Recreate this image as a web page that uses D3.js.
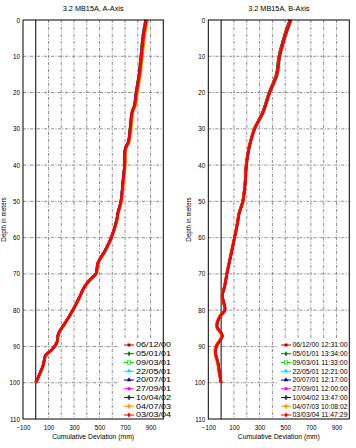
<!DOCTYPE html>
<html><head><meta charset="utf-8">
<script src="https://cdn.jsdelivr.net/npm/d3@7"></script>
<style>html,body{margin:0;padding:0;background:#fff}svg{display:block}text{font-family:"Liberation Sans",Arial,sans-serif;fill:#000}</style>
</head><body><svg id="c" width="356" height="448"></svg>
<script>
// ---------- data ----------
const seriesNamesA = ["06/12/00","05/01/01","09/03/01","22/05/01","20/07/01","27/09/01","10/04/02","04/07/03","03/03/04"];
const seriesNamesB = ["06/12/00 12:31:00","05/01/01 13:34:00","09/03/01 11:33:00","22/05/01 12:21:00","20/07/01 12:17:00","27/09/01 12:00:00","10/04/02 13:47:00","04/07/03 10:08:02","03/03/04 11:47:29"];
const yTicks = [0,10,20,30,40,50,60,70,80,90,100,110];
const xTickLabels = [-100,100,300,500,700,900];
const xGrid = [100,200,300,400,500,600,700,800,900];

const depthsA = [0,4,10,15,20,23.5,25.5,30,33.5,35.5,40,44.5,50,53.5,55,60,63.5,67,70,71.5,74,76,80,83.5,86.5,89,91,92.5,95,98,100];
const a1 = [860,840,823,808,785,772,752,738,725,700,695,682,666,640,634,590,543,486,470,426,373,347,290,230,177,164,122,75,59,25,0];
const a2 = [862,841,824,809,786,773,753,739,726,701,696,683,667,641,635,591,544,487,471,427,374,348,290,230,177,164,122,75,60,26,0];
const a3 = [863,842,825,810,787,774,754,739,726,701,696,683,667,641,635,591,544,487,471,427,374,348,291,231,178,165,123,76,60,26,0];
const a4 = [864,843,826,811,788,774,754,740,727,702,697,684,668,642,636,592,545,487,471,427,374,348,291,231,178,165,123,76,60,26,0];
const a5 = [865,844,826,811,788,775,755,740,727,702,697,684,668,642,636,592,545,488,472,428,375,349,291,231,178,165,123,76,60,26,0];
const a6 = [866,845,827,812,789,775,755,741,728,702,697,684,668,642,636,592,545,488,472,428,375,349,291,231,178,165,123,76,60,26,0];
const a7 = [867,846,828,812,789,776,756,741,728,703,698,685,669,643,637,593,546,488,472,428,375,349,291,231,178,165,123,76,60,26,0];
const a8 = [878,857,838,822,798,783,763,749,735,709,703,690,673,647,640,596,549,491,475,430,377,351,293,232,179,166,124,77,61,27,0];
const a9 = [868,847,829,813,790,776,756,742,729,703,698,685,669,643,637,593,546,488,472,428,375,349,291,231,178,165,123,76,60,26,0];

const depthsB = [0,4,10,15,20,25.5,30,35.5,40,44.5,50,53.5,56,60,65.5,70,73.5,76,80,81.5,84.5,87,90,92,94.5,97.5,100];
const b1 = [535,495,449,429,373,322,258,214,195,187,168,137,126,104,71,44,26,8,28,-7,-34,8,-39,-44,-26,-13,0];
const b2 = [537,497,451,431,374,323,259,215,195,187,168,137,126,104,71,44,26,8,28,-7,-34,8,-39,-44,-26,-13,0];
const b3 = [538,498,452,431,375,324,259,215,196,188,169,138,127,104,71,44,26,8,29,-7,-34,8,-39,-44,-26,-12,0];
const b4 = [548,508,461,440,383,330,265,220,200,191,172,141,130,107,74,47,29,11,32,-4,-31,11,-36,-41,-23,-10,0];
const b5 = [540,500,454,433,377,325,260,216,196,188,169,138,127,105,72,45,27,9,29,-6,-33,9,-38,-43,-25,-12,0];
const b6 = [541,501,455,434,377,326,261,216,196,188,169,138,127,105,72,45,27,9,29,-6,-33,9,-38,-43,-25,-12,0];
const b7 = [542,502,455,434,378,326,261,217,197,189,170,139,128,105,72,45,27,9,30,-6,-33,9,-38,-43,-25,-12,0];
const b8 = [543,502,455,434,377,325,260,215,195,186,167,136,125,102,69,42,24,6,26,-11,-39,3,-45,-50,-31,-16,0];
const b9 = [545,504,457,436,379,327,262,217,197,189,170,139,128,105,72,45,27,9,30,-6,-33,9,-38,-43,-25,-12,0];

const seriesColors = ["#c00000","#008000","#00e000","#00e0e0","#000090","#ff00ff","#202040","#ff9900","#ff0000"];
const seriesSymbols = ["square","diamond","opensquare","triangle","triangle","square","cross","cross","circle"];

// ---------- drawing ----------
const svg = d3.select("#c");
const plotTop = 20, plotBottom = 419;

function panel(opt){
  const g = svg.append("g");
  const x = d3.scaleLinear().domain([-100,1000]).range([opt.x0, opt.x1]);
  const y = d3.scaleLinear().domain([0,110]).range([plotTop, plotBottom]);
  g.selectAll(".hg").data(yTicks.filter(d=>d>0&&d<110)).join("line")
    .attr("x1",opt.x0).attr("x2",opt.x1).attr("y1",d=>y(d)).attr("y2",d=>y(d))
    .attr("stroke","#808080").attr("stroke-width",0.9).attr("stroke-dasharray","3,1.5,1,1.5");
  g.selectAll(".vg").data(xGrid).join("line")
    .attr("x1",d=>x(d)).attr("x2",d=>x(d)).attr("y1",plotTop).attr("y2",plotBottom)
    .attr("stroke","#808080").attr("stroke-width",0.9).attr("stroke-dasharray","3,1.5,1,1.5");
  g.append("line").attr("x1",x(0)).attr("x2",x(0)).attr("y1",plotTop).attr("y2",plotBottom)
    .attr("stroke","#000").attr("stroke-width",1);
  g.append("rect").attr("x",opt.legBoxX).attr("y",339).attr("width",opt.x1-opt.legBoxX-0.5).attr("height",plotBottom-339-0.5).attr("fill","#fff");
  const line = d3.line().x(d=>x(d[1])).y(d=>y(d[0])).curve(d3.curveCatmullRom.alpha(0.5));
  opt.series.forEach((vals,i)=>{
    g.append("path").datum(opt.depths.map((dp,k)=>[dp,vals[k]]))
      .attr("d",line).attr("fill","none").attr("stroke",seriesColors[i])
      .attr("stroke-width", i===8?2.9:2.4).attr("stroke-linejoin","round");
  });
  g.append("rect").attr("x",opt.x0).attr("y",plotTop).attr("width",opt.x1-opt.x0).attr("height",plotBottom-plotTop)
    .attr("fill","none").attr("stroke","#000").attr("stroke-width",1);
  const ya = d3.axisLeft(y).tickValues(yTicks).tickSize(0).tickPadding(3);
  const yg = g.append("g").attr("transform",`translate(${opt.x0},0)`).call(ya);
  yg.select(".domain").remove();
  yg.selectAll("text").style("font-size","6.3px").style("font-family","'Liberation Sans',Arial,sans-serif");
  const xa = d3.axisBottom(x).tickValues(xTickLabels).tickSize(0).tickPadding(7);
  const xg = g.append("g").attr("transform",`translate(0,${plotBottom})`).call(xa);
  xg.select(".domain").remove();
  xg.selectAll("text").style("font-size","6.3px").style("font-family","'Liberation Sans',Arial,sans-serif");
  const cx = (opt.x0+opt.x1)/2;
  g.append("text").attr("x",cx).attr("y",11).attr("text-anchor","middle").style("font-size","7.3px").text(opt.title);
  g.append("text").attr("x",cx).attr("y",439).attr("text-anchor","middle").style("font-size","6.8px").text("Cumulative Deviation (mm)");
  g.append("text").attr("transform",`translate(${opt.x0-17},${(plotTop+plotBottom)/2}) rotate(-90)`)
    .attr("text-anchor","middle").style("font-size","6.3px").text("Depth in meters");
  opt.names.forEach((nm,i)=>{
    const ly = 345 + i*8.75;
    const c = seriesColors[i];
    g.append("line").attr("x1",opt.legX).attr("x2",opt.legX+10).attr("y1",ly).attr("y2",ly).attr("stroke",c).attr("stroke-width",1);
    const mx = opt.legX+5, s = seriesSymbols[i];
    if(s==="cross"){
      g.append("path").attr("d",d3.symbol(d3.symbolCross,12)()).attr("transform",`translate(${mx},${ly})`).attr("fill",c);
    } else if(s==="opensquare"){
      g.append("rect").attr("x",mx-1.6).attr("y",ly-1.6).attr("width",3.2).attr("height",3.2).attr("fill","#fff").attr("stroke",c).attr("stroke-width",0.8);
    } else {
      const t = {square:d3.symbolSquare,diamond:d3.symbolDiamond,triangle:d3.symbolTriangle,circle:d3.symbolDiamond}[s];
      g.append("path").attr("d",d3.symbol(t,9)()).attr("transform",`translate(${mx},${ly})`).attr("fill",c);
    }
    g.append("text").attr("x",opt.legTextX).attr("y",ly+2.3).style("font-size","6.3px")
      .attr("textLength",opt.legTextLen).attr("lengthAdjust","spacingAndGlyphs").text(nm);
  });
}

panel({title:"3.2 MB15A, A-Axis", x0:23, x1:163.3, depths:depthsA, series:[a1,a2,a3,a4,a5,a6,a7,a8,a9],
  names:seriesNamesA, legX:124, legTextX:136, legTextLen:35, legBoxX:119});
panel({title:"3.2 MB15A, B-Axis", x0:208.3, x1:349.3, depths:depthsB, series:[b1,b2,b3,b4,b5,b6,b7,b8,b9],
  names:seriesNamesB, legX:281, legTextX:292.5, legTextLen:55, legBoxX:278});
</script></body></html>
